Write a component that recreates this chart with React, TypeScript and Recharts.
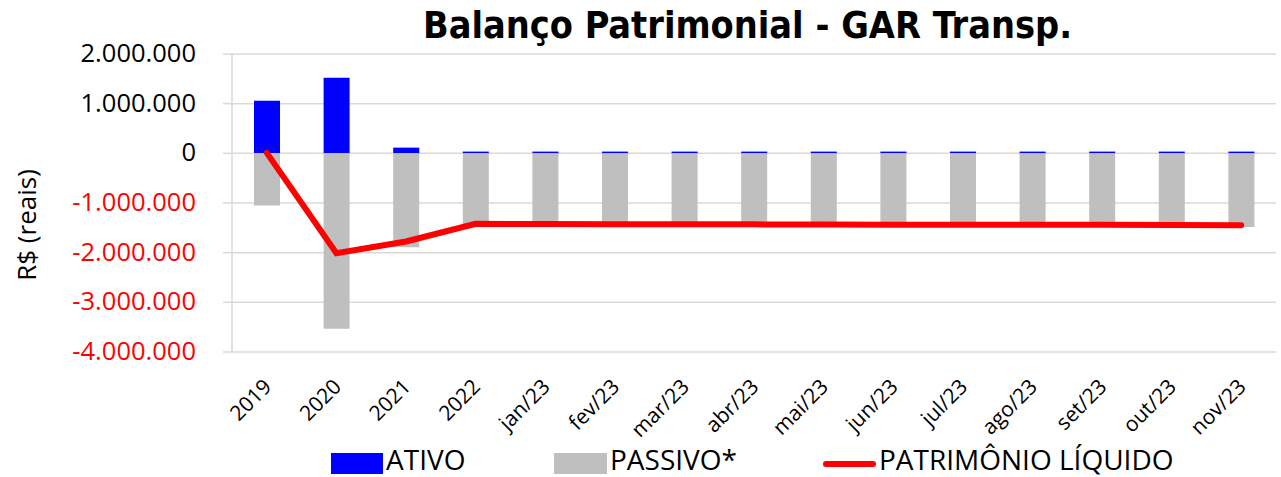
import React from "react";
import { ComposedChart, Bar, Line, XAxis, YAxis, CartesianGrid } from "recharts";

const categories = ["2019", "2020", "2021", "2022", "jan/23", "fev/23", "mar/23", "abr/23", "mai/23", "jun/23", "jul/23", "ago/23", "set/23", "out/23", "nov/23"];
const ativo = [1060000, 1520000, 115000, 35000, 35000, 35000, 35000, 35000, 35000, 35000, 35000, 35000, 35000, 35000, 35000];
const passivo = [-1050000, -3530000, -1890000, -1455000, -1460000, -1465000, -1465000, -1465000, -1470000, -1475000, -1475000, -1475000, -1475000, -1480000, -1485000];
const patrimonio = [10000, -2010000, -1775000, -1420000, -1425000, -1430000, -1430000, -1430000, -1435000, -1440000, -1440000, -1440000, -1440000, -1445000, -1450000];
const yTicks = [2000000, 1000000, 0, -1000000, -2000000, -3000000, -4000000];

const data = categories.map((c, i) => ({ name: c, ativo: ativo[i], passivo: passivo[i], pl: patrimonio[i] }));

const FONT = "'Open Sans', 'Noto Sans', sans-serif";
const GRID = "#d9d9d9";

function fmt(v: number) {
  const s = Math.abs(v).toString().replace(/\B(?=(\d{3})+(?!\d))/g, ".");
  return v < 0 ? "-" + s : s;
}

function YTick(props: any) {
  const { x, y, payload } = props;
  return (
    <text x={x} y={y} dy={8} textAnchor="end" fontSize={25.5} fontFamily={FONT} fill={payload.value < 0 ? "#ff0000" : "#000"}>
      {fmt(payload.value)}
    </text>
  );
}

function XTick(props: any) {
  const { x, y, payload } = props;
  const tx = x + 6;
  const ty = y + 28;
  return (
    <text x={tx} y={ty} textAnchor="end" fontSize={21} fontFamily={FONT} fill="#000" transform={`rotate(-45, ${tx}, ${ty})`}>
      {payload.value}
    </text>
  );
}

export default function App() {
  return (
    <div style={{ position: "absolute", left: 0, top: 0, width: 1281, height: 477, background: "#fff", fontFamily: FONT, overflow: "hidden" }}>
      <div
        style={{
          position: "absolute",
          left: 0,
          width: 1495,
          top: 1,
          textAlign: "center",
          fontFamily: "'DejaVu Sans Condensed', 'DejaVu Sans', sans-serif",
          fontStretch: "condensed",
          fontWeight: "bold",
          fontSize: 37.5,
          lineHeight: "48px",
          color: "#000",
        }}
      >
        Balanço Patrimonial - GAR Transp.
      </div>
      <div
        style={{
          position: "absolute",
          left: 26,
          top: 225,
          transform: "translate(-50%, -50%) rotate(-90deg)",
          fontSize: 26,
          whiteSpace: "nowrap",
          color: "#000",
        }}
      >
        R$ (reais)
      </div>
      <ComposedChart width={1281} height={477} data={data} stackOffset="sign" margin={{ top: 54, right: 5, left: 0, bottom: 55 }}>
        <CartesianGrid vertical={false} stroke={GRID} strokeWidth={1.5} />
        <XAxis dataKey="name" axisLine={false} tickLine={false} interval={0} height={70} tick={<XTick />} />
        <YAxis
          width={232}
          domain={[-4000000, 2000000]}
          ticks={yTicks}
          interval={0}
          axisLine={{ stroke: GRID, strokeWidth: 1.5 }}
          tickLine={{ stroke: GRID, strokeWidth: 1.5 }}
          tickSize={9}
          tickMargin={27}
          tick={<YTick />}
        />
        <Bar dataKey="ativo" stackId="a" fill="#0000ff" barSize={26} isAnimationActive={false} />
        <Bar dataKey="passivo" stackId="a" fill="#bfbfbf" barSize={26} isAnimationActive={false} />
        <Line dataKey="pl" type="linear" stroke="#ff0000" strokeWidth={6} strokeLinecap="round" dot={false} activeDot={false} isAnimationActive={false} />
      </ComposedChart>
      <div style={{ position: "absolute", left: 331, top: 453, width: 52, height: 21, background: "#0000ff" }} />
      <div style={{ position: "absolute", left: 386, top: 443, fontSize: 28, lineHeight: "32px", color: "#000" }}>ATIVO</div>
      <div style={{ position: "absolute", left: 554, top: 453, width: 53, height: 21, background: "#bfbfbf" }} />
      <div style={{ position: "absolute", left: 610, top: 443, fontSize: 28, lineHeight: "32px", color: "#000" }}>PASSIVO*</div>
      <div style={{ position: "absolute", left: 823, top: 461, width: 53, height: 6, borderRadius: 3, background: "#ff0000" }} />
      <div style={{ position: "absolute", left: 879, top: 443, fontSize: 28, lineHeight: "32px", color: "#000" }}>PATRIMÔNIO LÍQUIDO</div>
    </div>
  );
}
